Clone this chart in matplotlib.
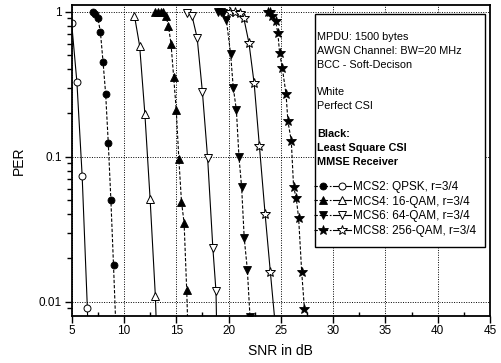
import matplotlib
matplotlib.use("Agg")
import matplotlib.pyplot as plt
from matplotlib.patches import Rectangle
from matplotlib.legend_handler import HandlerTuple
from matplotlib.ticker import MultipleLocator, FixedLocator, LogLocator, NullFormatter

plt.rcParams['font.family'] = ['Liberation Sans', 'DejaVu Sans']

# data (SNR in dB, PER)
mcs2_ls_x = [7.0, 7.25, 7.5, 7.75, 8.0, 8.25, 8.5, 8.75, 9.0, 9.25]
mcs2_ls_y = [1.0, 0.97, 0.91, 0.72, 0.45, 0.27, 0.124, 0.050, 0.0178, 0.006]
mcs2_pc_x = [5.0, 5.5, 6.0, 6.5, 7.0]
mcs2_pc_y = [0.83, 0.326, 0.074, 0.009, 0.0005]

mcs4_ls_x = [13.0, 13.25, 13.5, 13.75, 14.0, 14.25, 14.5, 14.75, 15.0, 15.25, 15.5, 15.75, 16.0, 16.25]
mcs4_ls_y = [1.0, 1.0, 1.0, 0.99, 0.94, 0.80, 0.60, 0.356, 0.21, 0.096, 0.049, 0.035, 0.012, 0.003]
mcs4_pc_x = [11.0, 11.5, 12.0, 12.5, 13.0, 13.5]
mcs4_pc_y = [0.94, 0.58, 0.197, 0.051, 0.011, 0.001]

mcs6_ls_x = [19.0, 19.25, 19.5, 19.8, 20.2, 20.45, 20.75, 21.0, 21.25, 21.5, 21.8, 22.05]
mcs6_ls_y = [1.0, 1.0, 0.98, 0.87, 0.51, 0.30, 0.21, 0.099, 0.062, 0.0275, 0.0166, 0.0079]
mcs6_pc_x = [16.0, 16.5, 17.0, 17.5, 18.0, 18.5, 18.8, 19.0]
mcs6_pc_y = [0.98, 0.94, 0.66, 0.28, 0.098, 0.0235, 0.0118, 0.002]

mcs8_ls_x = [23.75, 24.0, 24.2, 24.5, 24.72, 24.88, 25.14, 25.5, 25.68, 26.0, 26.22, 26.47, 26.7, 27.0, 27.26]
mcs8_ls_y = [1.0, 1.0, 0.94, 0.86, 0.71, 0.52, 0.41, 0.27, 0.175, 0.129, 0.062, 0.052, 0.038, 0.0159, 0.0089]
mcs8_pc_x = [20.1, 20.6, 21.05, 21.45, 21.95, 22.45, 22.95, 23.5, 24.0, 24.5]
mcs8_pc_y = [1.0, 1.0, 0.98, 0.91, 0.61, 0.32, 0.119, 0.04, 0.016, 0.0065]

labels = ["MCS2: QPSK, r=3/4", "MCS4: 16-QAM, r=3/4",
          "MCS6: 64-QAM, r=3/4", "MCS8: 256-QAM, r=3/4"]
markers = ['o', '^', 'v', '*']
msizes = [5, 5.5, 5.5, 7]

info_lines = ["MPDU: 1500 bytes", "AWGN Channel: BW=20 MHz", "BCC - Soft-Decison", "",
              "White", "Perfect CSI", "", "Black:", "Least Square CSI", "MMSE Receiver"]

series = [(mcs2_ls_x, mcs2_ls_y, mcs2_pc_x, mcs2_pc_y),
          (mcs4_ls_x, mcs4_ls_y, mcs4_pc_x, mcs4_pc_y),
          (mcs6_ls_x, mcs6_ls_y, mcs6_pc_x, mcs6_pc_y),
          (mcs8_ls_x, mcs8_ls_y, mcs8_pc_x, mcs8_pc_y)]

fig = plt.figure(figsize=(5.02, 3.63), dpi=100)
ax = fig.add_axes([0.1428, 0.1306, 0.8332, 0.8556])

handles = []
for (lx, ly, px, py), m, ms in zip(series, markers, msizes):
    hb, = ax.plot(lx, ly, color='black', lw=0.8, dashes=(3, 1.6), marker=m, ms=ms,
                  mfc='black', mec='black', mew=0.6)
    hw, = ax.plot(px, py, color='black', lw=0.8, ls='-', marker=m, ms=ms,
                  mfc='white', mec='black', mew=0.7)
    handles.append((hb, hw))

ax.set_yscale('log')
ax.set_xlim(5, 45)
ax.set_ylim(0.00802, 1.112)
ax.xaxis.set_major_locator(MultipleLocator(5))
ax.xaxis.set_minor_locator(MultipleLocator(2.5))
ax.yaxis.set_major_locator(FixedLocator([0.01, 0.1, 1]))
ax.yaxis.set_major_formatter(matplotlib.ticker.FixedFormatter(['0.01', '0.1', '1']))
ax.yaxis.set_minor_locator(LogLocator(base=10, subs=range(2, 10)))
ax.yaxis.set_minor_formatter(NullFormatter())

ax.tick_params(axis='x', which='major', direction='out', length=5, width=1, labelsize=8.5, pad=2)
ax.tick_params(axis='x', which='minor', direction='in', length=3, width=1)
ax.tick_params(axis='y', which='major', direction='out', length=5, width=1, labelsize=8.5, pad=2)
ax.tick_params(axis='y', which='minor', direction='out', length=3.5, width=1)
for s in ax.spines.values():
    s.set_linewidth(1.3)

ax.grid(True, which='major', color='black', lw=0.7, ls=(0, (1, 1.5)))

ax.set_xlabel("SNR in dB", fontsize=10, labelpad=5)
ax.set_ylabel("PER", fontsize=10, labelpad=9)

# info box in the upper right
def axx(px):
    return (px - 71.7) / 418.3

def axy(py):
    return 1 - (py - 5) / 310.6

box = Rectangle((axx(315), axy(247.5)), axx(485.5) - axx(315), axy(14) - axy(247.5),
                transform=ax.transAxes, facecolor='white', edgecolor='black', lw=1.0, zorder=5)
ax.add_patch(box)

for i, t in enumerate(info_lines):
    if not t:
        continue
    ax.text(axx(317), axy(36.7 + 13.9 * i), t, transform=ax.transAxes, fontsize=7.8,
            va='center', ha='left', zorder=6, fontweight='bold' if i >= 7 else 'normal')

leg = ax.legend(handles, labels, handler_map={tuple: HandlerTuple(ndivide=None, pad=0.15)},
                loc='upper left', bbox_to_anchor=(axx(314), axy(181)), frameon=False,
                fontsize=8.5, handlelength=3.1, handletextpad=0.2, labelspacing=0.22,
                borderpad=0, borderaxespad=0, numpoints=1)
leg.set_zorder(7)

fig.savefig("out.png", dpi=100)
